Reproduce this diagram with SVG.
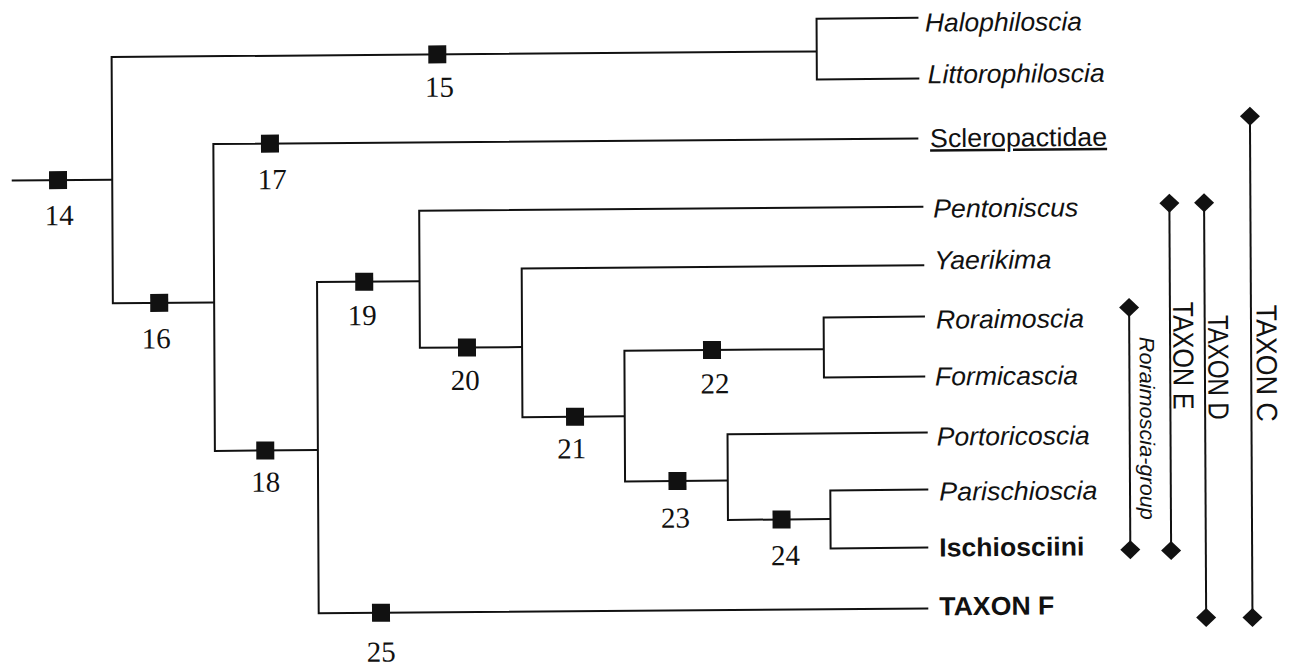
<svg xmlns="http://www.w3.org/2000/svg" width="1295" height="666" viewBox="0 0 1295 666">
  <style>
    .br { fill: none; stroke: #111; stroke-width: 2; stroke-linejoin: miter; }
    .bar { fill: none; stroke: #111; stroke-width: 2; }
    .mk { fill: #111; }
    .num { font-family: "Liberation Serif", "Times New Roman", serif; font-size: 29px; fill: #111; text-anchor: middle; }
    .tx { font-family: "Liberation Sans", Arial, sans-serif; font-size: 26px; fill: #111; }
    .it { font-style: italic; }
    .bd { font-weight: bold; }
    .vt { font-family: "Liberation Sans", Arial, sans-serif; font-size: 29px; fill: #111; text-anchor: middle; }
    .vs { font-size: 21px; }
  </style>
  <defs>
    <rect id="sq" x="-9" y="-9" width="18" height="18"/>
    <path id="dm" d="M0,-9.5 L10,0 L0,9.5 L-10,0 Z"/>
  </defs>
  <rect width="1295" height="666" fill="#fff"/>

  <!-- whole plate sits slightly skewed on the page -->
  <g transform="matrix(1,-0.008,0.005,1,-1.65,5.12)">

    <!-- cladogram branches -->
    <g id="connectors" class="br">
      <path d="M12.5,175.5 H113"/>
      <path d="M818.1,52.8 H113 V299 H214.3"/>
      <path d="M920,20.1 H818.1 V80.8 H920.6"/>
      <path d="M919.3,140.7 H214.3 V447.5 H317.3"/>
      <path d="M419.8,279.5 H317.3 V610.7 H926.9"/>
      <path d="M924,209 H419.8 V346.1 H522"/>
      <path d="M924.6,267.5 H522 V416.2 H624.3"/>
      <path d="M823.7,350.6 H624.3 V481.3 H727"/>
      <path d="M925,318.9 H823.7 V378.9 H925"/>
      <path d="M927.2,434.9 H727 V520.6 H829.5"/>
      <path d="M927.5,491.9 H829.5 V549.9 H927.2"/>
    </g>

    <!-- numbered nodes -->
    <g id="n14"><use href="#sq" class="mk" x="58.8" y="175.5"/><text class="num" x="59.7" y="220.4">14</text></g>
    <g id="n15"><use href="#sq" class="mk" x="438.7" y="52.8"/><text class="num" x="440.7" y="95.1">15</text></g>
    <g id="n16"><use href="#sq" class="mk" x="159.4" y="299"/><text class="num" x="156.2" y="344.4">16</text></g>
    <g id="n17"><use href="#sq" class="mk" x="270.9" y="140.7"/><text class="num" x="272.9" y="186.1">17</text></g>
    <g id="n18"><use href="#sq" class="mk" x="264.7" y="447.5"/><text class="num" x="265" y="488.7">18</text></g>
    <g id="n19"><use href="#sq" class="mk" x="364.5" y="279.5"/><text class="num" x="362.2" y="322.8">19</text></g>
    <g id="n20"><use href="#sq" class="mk" x="466.9" y="346.1"/><text class="num" x="465" y="388.6">20</text></g>
    <g id="n21"><use href="#sq" class="mk" x="574.6" y="416.2"/><text class="num" x="571.1" y="457.8">21</text></g>
    <g id="n22"><use href="#sq" class="mk" x="711.9" y="350.6"/><text class="num" x="714.7" y="393.9">22</text></g>
    <g id="n23"><use href="#sq" class="mk" x="676.7" y="481.3"/><text class="num" x="674.5" y="527.8">23</text></g>
    <g id="n24"><use href="#sq" class="mk" x="780.6" y="520.6"/><text class="num" x="784.3" y="566.2">24</text></g>
    <g id="n25"><use href="#sq" class="mk" x="379.6" y="610.7"/><text class="num" x="379.7" y="659.5">25</text></g>

    <!-- terminal taxa -->
    <g id="t-halophiloscia"><text class="tx it" x="926.5" y="33.9" textLength="157" lengthAdjust="spacingAndGlyphs">Halophiloscia</text></g>
    <g id="t-littorophiloscia"><text class="tx it" x="929" y="85.6" textLength="177" lengthAdjust="spacingAndGlyphs">Littorophiloscia</text></g>
    <g id="t-scleropactidae"><text class="tx" x="931" y="149.5" text-decoration="underline" textLength="177" lengthAdjust="spacingAndGlyphs">Scleropactidae</text></g>
    <g id="t-pentoniscus"><text class="tx it" x="933.9" y="219.9" textLength="145" lengthAdjust="spacingAndGlyphs">Pentoniscus</text></g>
    <g id="t-yaerikima"><text class="tx it" x="934.6" y="271.6" textLength="117" lengthAdjust="spacingAndGlyphs">Yaerikima</text></g>
    <g id="t-roraimoscia"><text class="tx it" x="936" y="330.9" textLength="148" lengthAdjust="spacingAndGlyphs">Roraimoscia</text></g>
    <g id="t-formicascia"><text class="tx it" x="934.8" y="387.8" textLength="143" lengthAdjust="spacingAndGlyphs">Formicascia</text></g>
    <g id="t-portoricoscia"><text class="tx it" x="936.2" y="447.9" textLength="153" lengthAdjust="spacingAndGlyphs">Portoricoscia</text></g>
    <g id="t-parischioscia"><text class="tx it" x="938.5" y="503" textLength="158" lengthAdjust="spacingAndGlyphs">Parischioscia</text></g>
    <g id="t-ischiosciini"><text class="tx bd" x="938.2" y="558.9" textLength="145" lengthAdjust="spacingAndGlyphs">Ischiosciini</text></g>
    <g id="t-taxonf"><text class="tx bd" x="937.9" y="617.7" textLength="115" lengthAdjust="spacingAndGlyphs">TAXON F</text></g>

    <!-- group brackets -->
    <g id="g-roraimoscia">
      <line class="bar" x1="1129.2" y1="311.4" x2="1129.2" y2="553.6"/>
      <use href="#dm" class="mk" x="1129.2" y="311.4"/>
      <use href="#dm" class="mk" x="1129.2" y="553.6"/>
      <text class="vt vs it" transform="translate(1139.5,432.3) rotate(90)" textLength="183" lengthAdjust="spacingAndGlyphs">Roraimoscia-group</text>
    </g>
    <g id="g-taxone">
      <line class="bar" x1="1170" y1="207.4" x2="1170" y2="554.7"/>
      <use href="#dm" class="mk" x="1170" y="207.4"/>
      <use href="#dm" class="mk" x="1170" y="554.7"/>
      <text class="vt" transform="translate(1173.2,360) rotate(90)" textLength="108" lengthAdjust="spacingAndGlyphs">TAXON E</text>
    </g>
    <g id="g-taxond">
      <line class="bar" x1="1204.7" y1="207.3" x2="1204.7" y2="622"/>
      <use href="#dm" class="mk" x="1204.7" y="207.3"/>
      <use href="#dm" class="mk" x="1204.7" y="622"/>
      <text class="vt" transform="translate(1208.1,372) rotate(90)" textLength="105" lengthAdjust="spacingAndGlyphs">TAXON D</text>
    </g>
    <g id="g-taxonc">
      <line class="bar" x1="1251" y1="121.1" x2="1251" y2="622.4"/>
      <use href="#dm" class="mk" x="1251" y="121.1"/>
      <use href="#dm" class="mk" x="1251" y="622.4"/>
      <text class="vt" transform="translate(1256.5,368.2) rotate(90)" textLength="117" lengthAdjust="spacingAndGlyphs">TAXON C</text>
    </g>
  </g>
</svg>
